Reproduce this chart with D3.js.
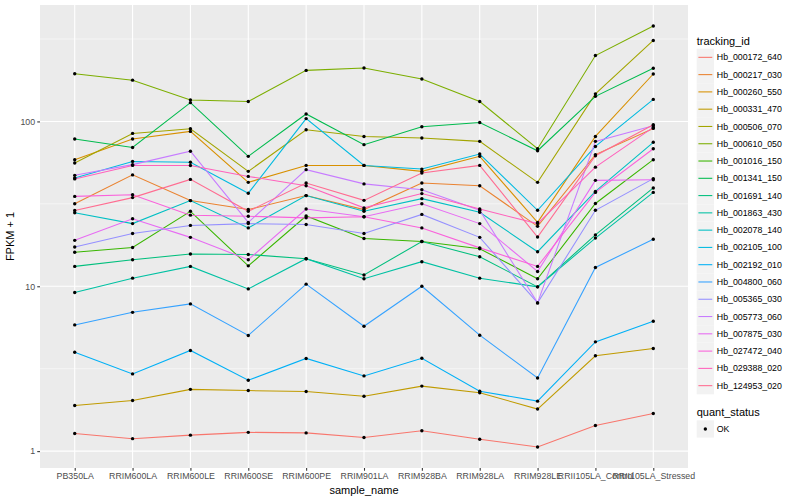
<!DOCTYPE html>
<html>
<head>
<meta charset="utf-8">
<script src="https://cdn.jsdelivr.net/npm/d3@7/dist/d3.min.js"></script>
<style>
  body { margin: 0; background: #fff; }
  text { font-family: "Liberation Sans", Arial, Helvetica, sans-serif; }
</style>
</head>
<body>
<script>
// samples on the x axis
const samples = ["PB350LA", "RRIM600LA", "RRIM600LE", "RRIM600SE", "RRIM600PE", "RRIM901LA",
  "RRIM928BA", "RRIM928LA", "RRIM928LE", "RRII105LA_Control", "RRII105LA_Stressed"];

const trackingIds = ["Hb_000172_640", "Hb_000217_030", "Hb_000260_550", "Hb_000331_470", "Hb_000506_070",
  "Hb_000610_050", "Hb_001016_150", "Hb_001341_150", "Hb_001691_140", "Hb_001863_430", "Hb_002078_140",
  "Hb_002105_100", "Hb_002192_010", "Hb_004800_060", "Hb_005365_030", "Hb_005773_060", "Hb_007875_030",
  "Hb_027472_040", "Hb_029388_020", "Hb_124953_020"];

// FPKM + 1, one value per sample
const hb_000172_640 = [1.28, 1.19, 1.25, 1.30, 1.29, 1.21, 1.33, 1.18, 1.06, 1.43, 1.69];
const hb_000217_030 = [31.7, 47.4, 33.1, 29.2, 35.5, 29.2, 42.3, 40.7, 23.1, 62.9, 90.7];
const hb_000260_550 = [58.6, 78.2, 87.0, 42.7, 54.1, 54.1, 49.8, 61.4, 24.4, 81.1, 194];
const hb_000331_470 = [1.89, 2.03, 2.37, 2.33, 2.30, 2.15, 2.48, 2.26, 1.80, 3.79, 4.19];
const hb_000506_070 = [56.0, 84.6, 90.3, 49.8, 89.1, 81.1, 79.3, 75.7, 42.7, 147, 310];
const hb_000610_050 = [194.5, 178, 135, 132, 204, 211, 181, 132, 68.3, 251, 379];
const hb_001016_150 = [16.1, 17.2, 28.5, 13.3, 26.7, 19.5, 18.7, 16.9, 11.1, 31.8, 58.6];
const hb_001341_150 = [78.2, 69.5, 130, 61.4, 111, 72.3, 92.9, 98.6, 66.4, 142, 210];
const hb_001691_140 = [13.2, 14.5, 15.7, 15.6, 14.7, 11.7, 18.7, 15.1, 9.92, 20.5, 39.5];
const hb_001863_430 = [9.16, 11.2, 13.2, 9.64, 14.7, 11.1, 14.1, 11.2, 9.92, 19.6, 37.1];
const hb_002078_140 = [27.9, 24.0, 33.1, 22.6, 35.5, 28.5, 34.0, 28.1, 16.2, 37.6, 74.7];
const hb_002105_100 = [45.4, 57.2, 56.5, 36.7, 104, 54.1, 51.4, 63.4, 28.9, 70.5, 136];
const hb_002192_010 = [3.98, 2.94, 4.08, 2.69, 3.65, 2.86, 3.66, 2.31, 2.01, 4.60, 6.14];
const hb_004800_060 = [5.83, 6.95, 7.82, 5.03, 10.3, 5.72, 10.0, 5.05, 2.78, 13.0, 19.3];
const hb_005365_030 = [17.3, 20.9, 23.4, 24.0, 23.7, 20.9, 27.3, 19.8, 7.93, 28.9, 45.0];
const hb_005773_060 = [47.1, 54.7, 66.0, 24.4, 51.0, 41.8, 38.5, 28.9, 7.93, 75.7, 94.2];
const hb_007875_030 = [19.0, 25.7, 19.8, 14.5, 29.4, 26.4, 31.7, 24.0, 12.3, 43.9, 44.3];
const hb_027472_040 = [35.1, 35.9, 27.0, 26.6, 26.0, 26.4, 22.6, 17.1, 13.2, 37.1, 68.3];
const hb_029388_020 = [44.8, 54.1, 54.0, 46.4, 40.7, 29.9, 36.5, 29.4, 24.0, 52.8, 92.0];
const hb_124953_020 = [28.8, 34.5, 44.5, 28.5, 42.3, 33.2, 48.7, 54.1, 19.9, 61.9, 95.5];

const seriesValues = [hb_000172_640, hb_000217_030, hb_000260_550, hb_000331_470, hb_000506_070,
  hb_000610_050, hb_001016_150, hb_001341_150, hb_001691_140, hb_001863_430, hb_002078_140,
  hb_002105_100, hb_002192_010, hb_004800_060, hb_005365_030, hb_005773_060, hb_007875_030,
  hb_027472_040, hb_029388_020, hb_124953_020];

const yTicks = [1, 10, 100];
const quantStatus = ["OK"];

// ggplot default hue palette for 20 groups
const colors = ["#F8766D", "#EA8331", "#D89000", "#C09B00", "#A3A500", "#7CAE00", "#39B600", "#00BB4E",
  "#00BF7D", "#00C1A3", "#00BFC4", "#00BAE0", "#00B0F6", "#35A2FF", "#9590FF", "#C77CFF", "#E76BF3",
  "#FA62DB", "#FF62BC", "#FF6C91"];

const W = 800, H = 500;
const panel = {left: 40, right: 688, top: 5, bottom: 468};

const svg = d3.select("body").append("svg")
    .attr("width", W).attr("height", H);

svg.append("rect").attr("width", W).attr("height", H).attr("fill", "#fff");

// long format
const series = trackingIds.map((id, i) => ({
  id: id,
  color: colors[i],
  points: samples.map((s, j) => ({sample: s, value: seriesValues[i][j]}))
}));
const all = series.flatMap(d => d.points);

const x = d3.scalePoint()
    .domain(samples)
    .range([panel.left, panel.right])
    .padding(0.6);

// log scale with ggplot's 5% expansion in log space
const ext = d3.extent(all, d => Math.log10(d.value));
const pad = (ext[1] - ext[0]) * 0.05;
const y = d3.scaleLog()
    .domain([Math.pow(10, ext[0] - pad), Math.pow(10, ext[1] + pad)])
    .range([panel.bottom, panel.top]);

// panel background
svg.append("rect")
    .attr("x", panel.left).attr("y", panel.top)
    .attr("width", panel.right - panel.left)
    .attr("height", panel.bottom - panel.top)
    .attr("fill", "#EBEBEB");

const grid = svg.append("g");
// minor grid (half decades)
grid.selectAll(".minor")
    .data(yTicks.map(t => t * Math.sqrt(10)).filter(v => y(v) > panel.top))
    .join("line")
    .attr("x1", panel.left).attr("x2", panel.right)
    .attr("y1", d => y(d)).attr("y2", d => y(d))
    .attr("stroke", "#fff").attr("stroke-width", 0.53);
grid.selectAll(".majory")
    .data(yTicks)
    .join("line")
    .attr("x1", panel.left).attr("x2", panel.right)
    .attr("y1", d => y(d)).attr("y2", d => y(d))
    .attr("stroke", "#fff").attr("stroke-width", 1.07);
grid.selectAll(".majorx")
    .data(samples)
    .join("line")
    .attr("x1", d => x(d)).attr("x2", d => x(d))
    .attr("y1", panel.top).attr("y2", panel.bottom)
    .attr("stroke", "#fff").attr("stroke-width", 1.07);

// lines
const line = d3.line()
    .x(d => x(d.sample))
    .y(d => y(d.value));

svg.append("g")
    .selectAll("path")
    .data(series)
    .join("path")
    .attr("d", d => line(d.points))
    .attr("fill", "none")
    .attr("stroke", d => d.color)
    .attr("stroke-width", 1.07);

// points
svg.append("g")
    .selectAll("circle")
    .data(all)
    .join("circle")
    .attr("cx", d => x(d.sample))
    .attr("cy", d => y(d.value))
    .attr("r", 1.7)
    .attr("fill", "#000");

// axes
const xAxis = svg.append("g")
    .attr("transform", `translate(0,${panel.bottom})`)
    .call(d3.axisBottom(x).tickSize(2.75).tickPadding(2.2));
const yAxis = svg.append("g")
    .attr("transform", `translate(${panel.left},0)`)
    .call(d3.axisLeft(y).tickValues(yTicks).tickFormat(d3.format("d")).tickSize(2.75).tickPadding(2.2));

[xAxis, yAxis].forEach(a => {
  a.select(".domain").remove();
  a.selectAll(".tick line").attr("stroke", "#333333").attr("stroke-width", 1.07);
  a.selectAll(".tick text")
      .attr("fill", "#4D4D4D")
      .style("font-size", "8.8px")
      .style("font-family", "'Liberation Sans', Arial, sans-serif");
});

// axis titles
svg.append("text")
    .attr("x", (panel.left + panel.right) / 2)
    .attr("y", 494)
    .attr("text-anchor", "middle")
    .style("font-size", "11px")
    .attr("fill", "#000")
    .text("sample_name");

svg.append("text")
    .attr("transform", `translate(14,${(panel.top + panel.bottom) / 2}) rotate(-90)`)
    .attr("text-anchor", "middle")
    .style("font-size", "11px")
    .attr("fill", "#000")
    .text("FPKM + 1");

// legend: tracking_id
const keyH = 17.28, keyX = 696.7, legTop = 31;
const legend = svg.append("g");
legend.append("text")
    .attr("x", keyX).attr("y", legTop + 13.5)
    .style("font-size", "11px")
    .text("tracking_id");

const keys = legend.selectAll(".key")
    .data(series)
    .join("g")
    .attr("transform", (d, i) => `translate(${keyX},${legTop + 17.7 + i * keyH})`);
keys.append("rect")
    .attr("width", keyH).attr("height", keyH)
    .attr("fill", "#F2F2F2");
keys.append("line")
    .attr("x1", 1.7).attr("x2", keyH - 1.7)
    .attr("y1", keyH / 2).attr("y2", keyH / 2)
    .attr("stroke", d => d.color)
    .attr("stroke-width", 1.07);
keys.append("text")
    .attr("x", keyH + 2.8).attr("y", keyH / 2)
    .attr("dy", "0.35em")
    .style("font-size", "8.8px")
    .text(d => d.id);

// legend: quant_status
const qTop = legTop + 17.7 + trackingIds.length * keyH + 11;
legend.append("text")
    .attr("x", keyX).attr("y", qTop + 10.5)
    .style("font-size", "11px")
    .text("quant_status");
const qKeys = legend.selectAll(".qkey")
    .data(quantStatus)
    .join("g")
    .attr("transform", (d, i) => `translate(${keyX},${qTop + 15 + i * keyH})`);
qKeys.append("rect")
    .attr("width", keyH).attr("height", keyH)
    .attr("fill", "#F2F2F2");
qKeys.append("circle")
    .attr("cx", keyH / 2).attr("cy", keyH / 2)
    .attr("r", 1.7).attr("fill", "#000");
qKeys.append("text")
    .attr("x", keyH + 2.8).attr("y", keyH / 2)
    .attr("dy", "0.35em")
    .style("font-size", "8.8px")
    .text(d => d);
</script>
</body>
</html>
